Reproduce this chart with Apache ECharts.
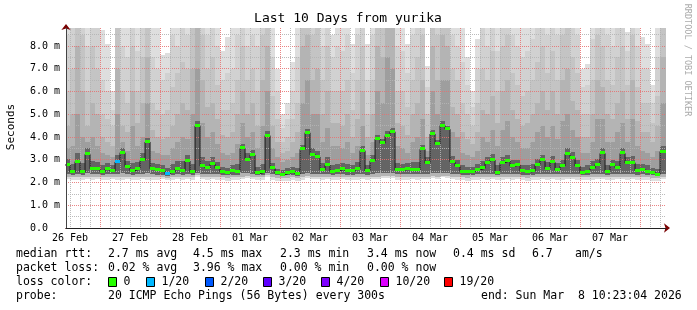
<!DOCTYPE html>
<html><head><meta charset="utf-8">
<script src="https://cdn.jsdelivr.net/npm/echarts@6/dist/echarts.min.js"></script>
<style>html,body{margin:0;padding:0;background:#fff}#c{width:697px;height:310px}</style>
</head><body><div id="c"></div>
<script>
// hours since 26 Feb 00:00
const START_HOUR = 10 + 23 / 60 + 4 / 3600;
const END_HOUR = START_HOUR + 240;
const FIRST_COLUMN_HOUR = 10;
const COLUMN_HOURS = 2;

const dayLabels = ['26 Feb','27 Feb','28 Feb','01 Mar','02 Mar','03 Mar','04 Mar','05 Mar','06 Mar','07 Mar'];
const dayLabelHours = [12,36,60,84,108,132,156,180,204,228];
const yTickValues = [0,1,2,3,4,5,6,7,8];

// median rtt (ms) per 2-hour column
const median = [2.77,2.45,2.92,2.45,3.24,2.60,2.58,2.48,2.60,2.50,
 2.90,3.31,2.70,2.52,2.60,2.97,3.78,2.60,2.57,2.50,
 2.37,2.46,2.60,2.52,2.95,2.45,4.50,2.72,2.63,2.81,
 2.62,2.46,2.40,2.49,2.46,3.50,3.00,3.21,2.40,2.45,
 4.06,2.62,2.40,2.34,2.42,2.48,2.37,3.46,4.19,3.21,
 3.13,2.55,2.77,2.48,2.52,2.60,2.50,2.50,2.59,3.40,
 2.49,2.95,3.91,3.72,4.06,4.23,2.55,2.55,2.60,2.57,
 2.55,3.46,2.84,4.13,3.68,4.50,4.34,2.90,2.72,2.48,
 2.46,2.46,2.55,2.62,2.87,2.99,2.43,2.87,2.95,2.72,
 2.77,2.50,2.46,2.50,2.77,2.97,2.60,2.89,2.55,2.72,
 3.25,3.09,2.72,2.43,2.48,2.63,2.79,3.28,2.45,2.75,
 2.65,3.28,2.85,2.87,2.52,2.55,2.48,2.42,2.35,3.36];

// columns with packet loss, and loss level index into lossColors
const lossColumns = [10, 20];
const lossColumnLevels = [1, 1];

// smoke: upper ping envelopes (ms), outermost first
const hi1 = [9,9,9,9,9,9,9,8.7,8.1,6.0,
 9,9,9,9,9,9,9,9,9,7.6,
 7.7,9,9,9,9,9,9,9,9,9,
 9,7.8,8.4,9,9,9,9,9,9,9,
 9,9,7.0,5.0,5.5,7.3,9,9,9,9,
 9,9,9,8.5,9,9,9,8.1,9,9,
 8.1,9,9,9,9,9,9,9,8.1,9,
 9,9,7.1,9,9,9,9,9,9,9,
 7.5,6.0,8.3,9,9,9,9,9,9,9,
 9,9,9,9,9,9,9,9,9,9,
 9,9,9,7.0,7.2,9,9,9,9,9,
 9,9,8.6,9,9,8.4,8.1,6.3,9,9];
const hi2 = [8.5,9,9,9,8,9,9,6.5,6,5.2,
 9,8,7.5,9,7.8,9,9,7.5,7,6.5,
 6.8,8.5,8,9,8.5,9,9,9,8.5,9,
 8,6.5,6.8,7,8.5,9,8,8.5,8,9,
 9,7.5,6,4.4,4.8,6,7.5,9,9,9,
 9,8,9,7.5,8,7.8,8.5,6.8,8.5,9,
 6.5,8.5,9,9,9,9,8,7.8,6.8,8.5,
 9,9,6.2,9,9,9,9,8.5,8,7.3,
 6.3,5.3,7,8.8,8,9,7.8,9,9,8.5,
 8,7.5,7.8,8.3,9,9,8.5,9,8.5,9,
 9,9,8.5,6.2,6.3,8.3,9,9,8.5,8,
 9,9,7.8,9,8,7,7,5.5,7.5,9];
const hi3 = [6,7,9,8.5,6,8,7,5,4.8,4.5,
 9,6,5.5,8,6,7.5,9,5.5,5.2,5,
 5.2,6.2,6.8,7.3,7,9,9,8.5,7,7.5,
 6.3,5.2,5.2,5.5,6.5,8,6.5,7,6,8.5,
 9,5.8,4.8,3.8,4.0,4.8,5.5,9,9,8.5,
 9,6.5,8,6,6,6,6.5,5.2,6.5,8,
 5,6.5,9,9,9,9,6,6,5.3,6.5,
 7.5,8.5,5,9,8.5,9,9,7,6.5,5.5,
 5,4.5,5.5,7,6.5,7.8,6,8,8.5,6.8,
 6.3,5.8,6,6.5,7.3,8,6.8,7.8,6.5,8.5,
 8.8,7.5,6.8,5,5,6.5,8.5,8,6.5,6.3,
 7.5,8,6.3,8.5,6.2,5.5,5.5,4.6,5.8,9];
const hi4 = [4.5,5,8,6,4.5,5.5,5,4,3.8,3.6,
 7,4.5,4.2,6,4.6,5.5,7.5,4.3,4,3.9,
 4,4.5,5,5.5,5.2,7,9,6.5,5.3,5.5,
 4.8,4.1,4,4.2,5,6,5,5.5,4.5,6.5,
 8,4.5,3.8,3.3,3.4,3.8,4.2,8,8.5,6.5,
 7,5,6,4.6,4.6,4.5,5,4,4.8,6,
 4,5,8,7.5,9,9,4.6,4.5,4.1,5,
 5.5,6.5,4,8,6.5,8.5,8,5.3,5,4.2,
 3.9,3.7,4.2,5.2,5,5.8,4.6,6,6.5,5.2,
 4.8,4.5,4.6,5,5.5,6,5.2,6,5,6.5,
 7,5.6,5.2,4,4,5,6.5,6.2,5,4.8,
 5.5,6,4.8,6.5,4.7,4.2,4.2,3.8,4.5,7.5];
const hi5 = [3.5,3.6,5,4,3.8,4,3.6,3.3,3.2,3.1,
 5,3.8,3.4,4.5,3.6,4,5.5,3.4,3.3,3.2,
 3.2,3.5,3.8,4,3.9,5,7,4.6,4,4.2,
 3.7,3.3,3.2,3.3,3.7,4.6,4,4.2,3.5,4.5,
 6,3.5,3.1,2.9,3.0,3.1,3.3,5.5,6.5,5,
 5,3.8,4.4,3.6,3.6,3.5,3.8,3.3,3.6,4.5,
 3.2,3.8,6,5.5,7.5,7,3.6,3.5,3.3,3.8,
 4,4.8,3.4,6,5,6.5,6.5,4.2,4,3.3,
 3.2,3.1,3.4,4,3.8,4.3,3.6,4.3,4.7,4,
 3.8,3.5,3.5,3.8,4.2,4.5,4,4.5,3.9,4.7,
 5,4.3,4,3.3,3.3,3.8,4.8,4.8,3.8,3.8,
 4.2,4.6,3.8,4.8,3.6,3.4,3.3,3.1,3.4,5.5];
const hi6 = [3.05,2.8,3.3,2.85,3.5,2.95,2.9,2.75,2.85,2.75,
 3.2,3.5,2.95,2.85,2.9,3.3,3.95,2.85,2.8,2.75,
 2.65,2.8,2.95,2.95,3.2,2.8,4.7,3.1,2.95,3.1,
 2.9,2.7,2.65,2.75,2.8,3.7,3.3,3.45,2.7,2.8,
 4.25,2.85,2.6,2.55,2.62,2.7,2.65,3.65,4.35,3.5,
 3.4,2.85,3.1,2.75,2.8,2.85,2.8,2.75,2.9,3.6,
 2.75,3.2,4.1,3.9,4.25,4.4,2.85,2.8,2.85,2.9,
 2.9,3.65,3.1,4.3,3.85,4.7,4.5,3.15,3.0,2.75,
 2.7,2.68,2.8,2.95,3.1,3.25,2.75,3.1,3.2,3.0,
 3.0,2.78,2.75,2.8,3.05,3.2,2.9,3.15,2.85,3.0,
 3.5,3.35,3.0,2.7,2.75,2.95,3.05,3.5,2.75,3.0,
 2.95,3.5,3.1,3.15,2.8,2.8,2.75,2.65,2.6,3.6];
// smoke: lower ping envelopes (ms), outermost first
const lo1 = [2.15,2.10,2.12,2.10,2.15,2.12,2.14,2.10,2.12,2.15,
 2.12,2.10,2.14,2.10,2.12,2.15,2.12,2.10,2.12,2.14,
 2.10,2.12,2.15,2.12,2.14,2.10,2.25,2.15,2.12,2.14,
 2.12,2.10,2.08,2.10,2.12,2.15,2.18,2.14,2.10,2.12,
 2.25,2.12,2.08,2.05,2.08,2.10,2.08,2.12,2.18,2.15,
 2.14,2.12,2.15,2.10,2.12,2.14,2.12,2.10,2.12,2.15,
 2.12,2.14,2.15,2.18,2.20,2.18,2.12,2.10,2.12,2.14,
 2.12,2.15,2.14,2.18,2.15,2.22,2.18,2.14,2.12,2.10,
 2.08,2.10,2.12,2.14,2.12,2.15,2.10,2.12,2.14,2.12,
 2.14,2.10,2.08,2.10,2.12,2.15,2.12,2.14,2.10,2.12,
 2.15,2.14,2.12,2.10,2.10,2.12,2.14,2.15,2.10,2.12,
 2.14,2.15,2.12,2.14,2.10,2.12,2.10,2.08,2.06,2.15];
const lo2 = [2.25,2.22,2.24,2.22,2.26,2.24,2.25,2.22,2.24,2.25,
 2.24,2.22,2.25,2.22,2.24,2.26,2.24,2.22,2.24,2.25,
 2.20,2.22,2.25,2.24,2.25,2.22,2.32,2.26,2.24,2.25,
 2.24,2.22,2.20,2.22,2.22,2.26,2.28,2.25,2.22,2.24,
 2.32,2.24,2.20,2.18,2.20,2.22,2.20,2.24,2.28,2.26,
 2.25,2.24,2.26,2.22,2.24,2.25,2.24,2.22,2.24,2.26,
 2.24,2.25,2.26,2.28,2.30,2.28,2.24,2.22,2.24,2.25,
 2.24,2.26,2.25,2.28,2.26,2.30,2.28,2.25,2.24,2.22,
 2.20,2.22,2.24,2.25,2.24,2.26,2.22,2.24,2.25,2.24,
 2.25,2.22,2.20,2.22,2.24,2.26,2.24,2.25,2.22,2.24,
 2.26,2.25,2.24,2.22,2.22,2.24,2.25,2.26,2.22,2.24,
 2.25,2.26,2.24,2.25,2.22,2.24,2.22,2.20,2.18,2.26];
const lo3 = [2.38,2.34,2.38,2.34,2.40,2.36,2.36,2.34,2.36,2.36,
 2.38,2.40,2.36,2.34,2.36,2.38,2.40,2.36,2.35,2.35,
 2.30,2.34,2.36,2.35,2.38,2.34,2.42,2.38,2.36,2.38,
 2.36,2.34,2.31,2.34,2.34,2.40,2.40,2.38,2.31,2.34,
 2.42,2.36,2.31,2.28,2.32,2.34,2.30,2.38,2.40,2.38,
 2.38,2.36,2.38,2.34,2.36,2.36,2.35,2.35,2.36,2.38,
 2.35,2.38,2.40,2.40,2.42,2.42,2.36,2.36,2.36,2.36,
 2.36,2.38,2.38,2.40,2.40,2.42,2.40,2.38,2.36,2.34,
 2.33,2.34,2.36,2.36,2.38,2.38,2.34,2.38,2.38,2.36,
 2.38,2.35,2.33,2.35,2.36,2.38,2.36,2.38,2.36,2.36,
 2.38,2.38,2.36,2.34,2.34,2.36,2.38,2.38,2.34,2.36,
 2.36,2.38,2.36,2.38,2.35,2.36,2.34,2.32,2.28,2.38];

const lossColors = ['#26ff00','#00b8ff','#0059ff','#5e00ff','#7e00ff','#dd00ff','#ff0000'];
const lossLabels = ['0','1/20','2/20','3/20','4/20','10/20','19/20'];
const rttStats = ['2.7 ms avg','4.5 ms max','2.3 ms min','3.4 ms now','0.4 ms sd','6.7','am/s'];
const lossStats = ['0.02 % avg','3.96 % max','0.00 % min','0.00 % now'];
const probeText = '20 ICMP Echo Pings (56 Bytes) every 300s';
const endText = 'end: Sun Mar  8 10:23:04 2026';

const N = median.length;
const colStart = k => FIRST_COLUMN_HOUR + COLUMN_HOURS * k;
const colEnd = k => (k === N - 1 ? END_HOUR : colStart(k + 1));

// grid line positions (axis configuration)
const majorXHours = [], minorXHours = [];
for (let h = 12; h < END_HOUR; h += 4) (h % 24 === 0 ? majorXHours : minorXHours).push(h);
const majorYValues = [1,2,3,4,5,6,7,8];
const minorYValues = [0.5,1.5,2.5,3.5,4.5,5.5,6.5,7.5,8.5];

function bandData(lo, hi) {
  const out = [];
  for (let k = 0; k < N; k++) out.push([colStart(k), colEnd(k), lo[k], hi[k]]);
  return out;
}
function rectRender(color) {
  return function (params, api) {
    const a = api.coord([api.value(0), api.value(3)]);
    const b = api.coord([api.value(1), api.value(2)]);
    const x0 = Math.round(a[0]), x1 = Math.round(b[0]);
    const y0 = Math.round(a[1]), y1 = Math.round(b[1]);
    return { type: 'rect', shape: { x: x0, y: y0, width: x1 - x0, height: Math.max(0, y1 - y0) }, style: { fill: color } };
  };
}
const layers = [
  [lo1, hi1, '#dedede'],
  [lo2, hi2, '#d1d1d1'],
  [lo2, hi3, '#c4c4c4'],
  [lo2, hi4, '#b4b4b4'],
  [lo3, hi5, '#9e9e9e'],
  [lo3, hi6, '#646464']
];
const series = layers.map(([lo, hi, color]) => ({
  type: 'custom', xAxisIndex: 0, yAxisIndex: 0, z: 2, clip: true, silent: true,
  renderItem: rectRender(color),
  encode: { x: [0, 1], y: [2, 3] },
  data: bandData(lo, hi)
}));

// median: dark step line + loss-coloured dashes
const medLine = [];
for (let k = 0; k < N; k++) medLine.push([colStart(k), median[k]]);
medLine.push([END_HOUR, median[N - 1]]);
series.push({
  type: 'line', xAxisIndex: 0, yAxisIndex: 0, z: 5, silent: true, symbol: 'none', step: 'end',
  data: medLine, lineStyle: { color: '#1a1a1a', width: 1 }, animation: false
});
const medDash = [];
for (let k = 0; k < N; k++) {
  const li = lossColumns.indexOf(k);
  medDash.push([colStart(k), colEnd(k), median[k], li >= 0 ? lossColumnLevels[li] : 0]);
}
series.push({
  type: 'custom', xAxisIndex: 0, yAxisIndex: 0, z: 6, clip: true, silent: true,
  encode: { x: [0, 1], y: 2 },
  data: medDash,
  renderItem: function (params, api) {
    const a = api.coord([api.value(0), api.value(2)]);
    const b = api.coord([api.value(1), api.value(2)]);
    const x0 = Math.round(a[0]), x1 = Math.round(b[0]);
    const y = Math.round(a[1]) - 1;
    return { type: 'rect', shape: { x: x0, y: y - 1, width: x1 - x0, height: 3 }, style: { fill: lossColors[api.value(3)] } };
  }
});

const MONO = '"DejaVu Sans Mono", monospace';
const graphics = [];
function txt(s, x, y, size, align) {
  graphics.push({ type: 'text', z: 100, silent: true,
    style: { text: s, x: x, y: y, font: size + 'px ' + MONO, fill: '#000',
      textAlign: align || 'left', textVerticalAlign: 'middle', align: align || 'left', verticalAlign: 'middle' } });
}
txt('Last 10 Days from yurika', 348, 19, 13, 'center');
graphics.push({ type: 'text', z: 100, silent: true, x: 11, y: 127, rotation: Math.PI / 2,
  style: { text: 'Seconds', font: '11px ' + MONO, fill: '#000', textAlign: 'center', textVerticalAlign: 'middle', align: 'center', verticalAlign: 'middle' } });
graphics.push({ type: 'text', z: 100, silent: true, x: 687, y: 60, rotation: -Math.PI / 2,
  style: { text: 'RRDTOOL / TOBI OETIKER', font: '8.5px ' + MONO, fill: '#aaaaaa', textAlign: 'center', textVerticalAlign: 'middle', align: 'center', verticalAlign: 'middle' } });

const rttX = [108, 193, 280, 367, 453, 532, 575];
txt('median rtt:', 16, 254, 11.5);
rttStats.forEach((s, i) => txt(s, rttX[i], 254, 11.5));
txt('packet loss:', 16, 268, 11.5);
lossStats.forEach((s, i) => txt(s, rttX[i], 268, 11.5));
txt('loss color:', 16, 282, 11.5);
const boxX = [108.5, 146.5, 205.5, 263.5, 321.5, 380.5, 444.5];
lossColors.forEach((c, i) => {
  graphics.push({ type: 'rect', z: 100, silent: true, shape: { x: boxX[i], y: 277.5, width: 8, height: 9 },
    style: { fill: c, stroke: '#000', lineWidth: 1 } });
  txt(lossLabels[i], boxX[i] + 15, 282, 11.5);
});
txt('probe:', 16, 296, 11.5);
txt(probeText, 108, 296, 11.5);
txt(endText, 481, 296, 11.5);

const minorStyle = { color: 'rgba(180,180,180,0.9)', width: 1, type: [1, 1] };
const majorStyle = { color: 'rgba(232,110,110,0.85)', width: 1, type: [1, 1] };
const hidden = { axisLine: { show: false }, axisLabel: { show: false } };
function gridAxisX(values, style) {
  return Object.assign({ type: 'value', min: START_HOUR, max: END_HOUR, position: 'bottom', z: 4,
    axisTick: { show: false, customValues: values }, splitLine: { show: true, lineStyle: style } }, hidden);
}
function gridAxisY(values, style) {
  return Object.assign({ type: 'value', min: 0, max: 8.79, position: 'left', z: 4,
    axisTick: { show: false, customValues: values }, splitLine: { show: true, lineStyle: style } }, hidden);
}

const chart = echarts.init(document.getElementById('c'), null, { renderer: 'canvas' });
chart.setOption({
  animation: false,
  backgroundColor: '#ffffff',
  textStyle: { fontFamily: MONO },
  grid: { left: 66, right: 31, top: 28, bottom: 82, containLabel: false },
  xAxis: [{
    type: 'value', min: START_HOUR, max: END_HOUR, position: 'bottom', z: 10,
    axisLine: { show: true, onZero: false, lineStyle: { color: '#222', width: 1 } },
    axisTick: { show: false }, splitLine: { show: false },
    axisLabel: { customValues: dayLabelHours, hideOverlap: false, color: '#000', fontSize: 10, fontFamily: MONO, margin: 5,
      formatter: v => { const i = dayLabelHours.indexOf(Math.round(v)); return i >= 0 ? dayLabels[i] : ''; } }
  }, {
    type: 'value', min: START_HOUR, max: END_HOUR, position: 'bottom', z: 9,
    axisLine: { show: true, onZero: false, lineStyle: { color: '#7a0000', width: 1 }, symbol: ['none', 'arrow'], symbolSize: [7, 6], symbolOffset: [0, 4] },
    axisTick: { show: false }, axisLabel: { show: false }, splitLine: { show: false }
  },
    gridAxisX(minorXHours, minorStyle),
    gridAxisX(majorXHours, majorStyle)
  ],
  yAxis: [{
    type: 'value', min: 0, max: 8.79, interval: 1, position: 'left', z: 10,
    axisLine: { show: true, onZero: false, lineStyle: { color: '#444', width: 1 } },
    axisTick: { show: false }, splitLine: { show: false },
    axisLabel: { customValues: yTickValues, color: '#000', fontSize: 10, fontFamily: MONO, align: 'left', margin: 36,
      formatter: v => (v === 0 ? '0.0' : v.toFixed(1) + ' m') }
  }, {
    type: 'value', min: 0, max: 8.79, interval: 1, position: 'left', z: 9,
    axisLine: { show: true, onZero: false, lineStyle: { color: '#7a0000', width: 1 }, symbol: ['none', 'arrow'], symbolSize: [7, 6], symbolOffset: [0, 4] },
    axisTick: { show: false }, axisLabel: { show: false }, splitLine: { show: false }
  },
    gridAxisY(minorYValues, minorStyle),
    gridAxisY(majorYValues, majorStyle)
  ],
  series: series,
  graphic: graphics
});
</script></body></html>
